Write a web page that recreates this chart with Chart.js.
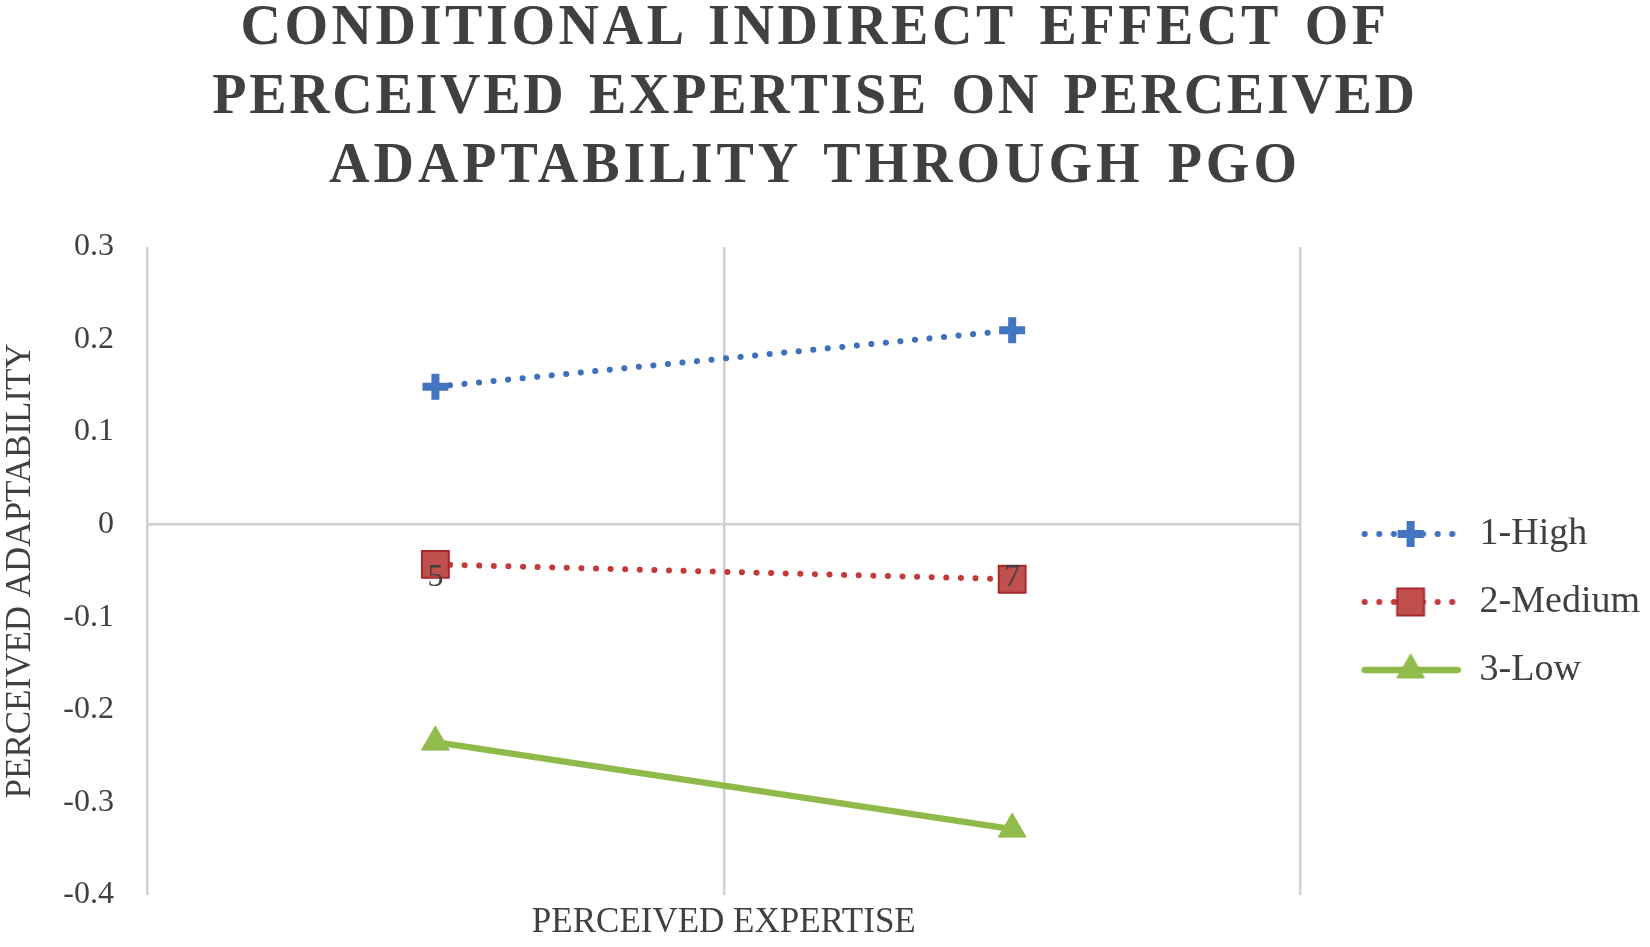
<!DOCTYPE html>
<html lang="en">
<head>
<meta charset="UTF-8">
<title>Conditional indirect effect of perceived expertise</title>
<script src="https://cdn.jsdelivr.net/npm/chart.js@4"></script>
<style>
  html, body { margin: 0; padding: 0; background: #fff; }
  .wrap { position: relative; width: 1650px; height: 947px; overflow: hidden; }
  .wrap canvas { position: absolute; left: 0; top: 0; }
  h1 {
    position: absolute; top: -9px; left: 0; width: 1630px; margin: 0;
    text-align: center; color: #404040;
    font: bold 56px/69px "Liberation Serif", serif;
    word-spacing: 6px;
  }
  h1 span { display: block; }
  h1 .l1 { letter-spacing: 3.6px; }
  h1 .l2 { letter-spacing: 2.7px; }
  h1 .l3 { letter-spacing: 4px; }
</style>
</head>
<body>
<div class="wrap">
  <canvas id="chart" width="1650" height="947"></canvas>
  <h1><span class="l1">CONDITIONAL INDIRECT EFFECT OF</span><span class="l2">PERCEIVED EXPERTISE ON PERCEIVED</span><span class="l3">ADAPTABILITY THROUGH PGO</span></h1>
</div>
<script>
// data
const categories = ['5', '7'];
const seriesNames = ['1-High', '2-Medium', '3-Low'];
const highValues = [0.149, 0.210];
const mediumValues = [-0.043, -0.059];
const lowValues = [-0.235, -0.329];
const yMin = -0.4, yMax = 0.3, yStep = 0.1;

const serif = '"Liberation Serif", "DejaVu Serif", serif';
const textColor = '#404040';
const gridColor = '#cfcfcf';

const datasets = [
  {
    label: seriesNames[0], data: highValues,
    borderColor: '#3F70BE', borderWidth: 6, borderDash: [0.1, 14.5], borderCapStyle: 'round',
    pointStyle: 'cross', pointRadius: 13, pointBorderWidth: 8,
    pointBorderColor: '#4475C0', pointBackgroundColor: '#4F81BD'
  },
  {
    label: seriesNames[1], data: mediumValues,
    borderColor: '#C23B38', borderWidth: 6, borderDash: [0.1, 14.5], borderCapStyle: 'round',
    pointStyle: 'rect', pointRadius: 19, pointBorderWidth: 2,
    pointBorderColor: '#A8292A', pointBackgroundColor: '#C0504D'
  },
  {
    label: seriesNames[2], data: lowValues,
    borderColor: '#8FBA4A', borderWidth: 6.5, borderCapStyle: 'round',
    pointStyle: 'triangle', pointRadius: 16, pointBorderWidth: 1,
    pointBorderColor: '#8FBA4A', pointBackgroundColor: '#92BC4C'
  }
];
datasets.forEach(d => { d.fill = false; d.tension = 0; d.xAxisID = 'x'; d.yAxisID = 'y'; });

// legend sample: a short piece of the series line with its marker in the middle
function makeSample(ds) {
  const c = document.createElement('canvas');
  c.width = 130; c.height = 40;
  const ctx = c.getContext('2d');
  ctx.strokeStyle = ds.borderColor;
  ctx.lineWidth = ds.borderWidth;
  ctx.lineCap = ds.borderCapStyle || 'butt';
  ctx.setLineDash(ds.borderDash || []);
  ctx.beginPath(); ctx.moveTo(34, 20); ctx.lineTo(127, 20); ctx.stroke();
  ctx.setLineDash([]);
  ctx.lineCap = 'butt';
  ctx.fillStyle = ds.pointBackgroundColor;
  ctx.strokeStyle = ds.pointBorderColor;
  ctx.lineWidth = ds.pointBorderWidth;
  Chart.helpers.drawPoint(ctx, {
    pointStyle: ds.pointStyle, radius: ds.pointRadius, rotation: 0, borderWidth: ds.pointBorderWidth
  }, 80, 20);
  return c;
}
const legendSamples = datasets.map(makeSample);

new Chart(document.getElementById('chart'), {
  type: 'line',
  data: { labels: categories, datasets: datasets },
  options: {
    responsive: false,
    animation: false,
    layout: { padding: { top: 247, left: 0, right: 0, bottom: 0 } },
    scales: {
      x: {
        type: 'category', labels: categories, offset: true,
        grid: { offset: true, color: gridColor, lineWidth: 2.5, drawTicks: false },
        border: { display: false },
        ticks: { display: false },
        title: { display: true, text: 'PERCEIVED EXPERTISE', color: textColor,
                 font: { family: serif, size: 35 }, padding: { top: 0, bottom: 0 } },
        afterFit: s => { s.height = 49; }
      },
      x2: {
        type: 'category', axis: 'x', labels: categories, offset: true,
        position: { y: 0 },
        grid: { display: false, drawTicks: false },
        border: { display: true, color: gridColor, width: 2.5 },
        ticks: { color: textColor, font: { family: serif, size: 32 }, padding: 34, z: 1 }
      },
      y: {
        min: yMin, max: yMax,
        grid: { display: false, drawTicks: false },
        border: { display: false },
        ticks: { stepSize: yStep, color: textColor, font: { family: serif, size: 32 }, padding: 33,
                 callback: v => String(+v.toFixed(1)) },
        title: { display: true, text: 'PERCEIVED ADAPTABILITY', color: textColor,
                 font: { family: serif, size: 35 }, padding: { top: 0, bottom: 0 } },
        afterFit: s => { s.width = 147; }
      }
    },
    plugins: {
      tooltip: { enabled: false },
      legend: {
        position: 'right', align: 'start',
        title: { display: true, text: '', font: { size: 10 }, padding: { top: 226, bottom: 0 } },
        labels: {
          usePointStyle: true, pointStyleWidth: 130, boxHeight: 38,
          padding: 30, color: textColor, font: { family: serif, size: 38 },
          generateLabels: chart => {
            const items = Chart.defaults.plugins.legend.labels.generateLabels(chart);
            items.forEach((it, i) => { it.pointStyle = legendSamples[i]; it.rotation = 0; });
            return items;
          }
        }
      }
    }
  }
});
</script>
</body>
</html>
